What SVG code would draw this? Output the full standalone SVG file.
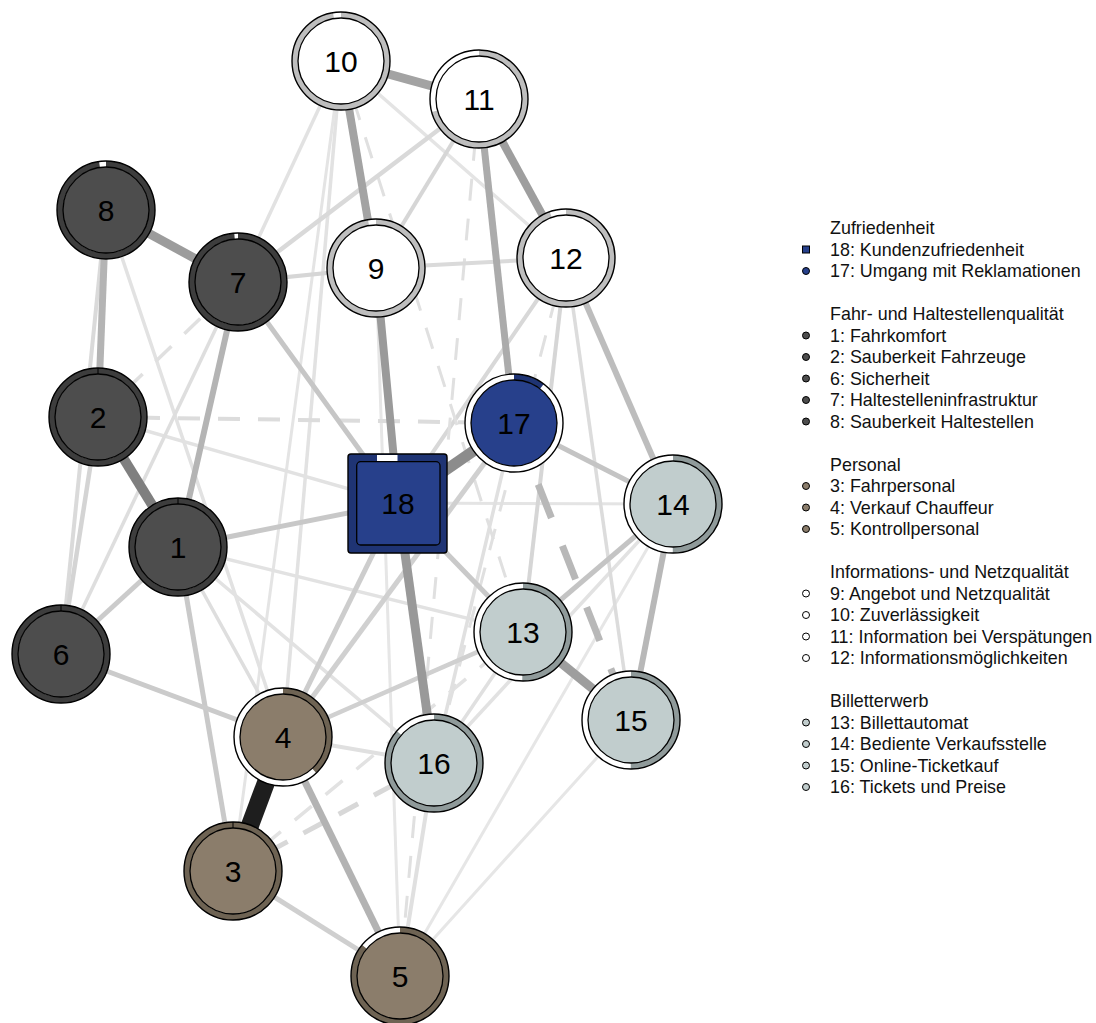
<svg xmlns="http://www.w3.org/2000/svg" width="1096" height="1023" viewBox="0 0 1096 1023">
<style>
.e{fill:none;stroke-linecap:butt}
.d{stroke-dasharray:22 18}
.bg{fill:#fff}
.ol{fill:none;stroke:#000;stroke-width:1.4}
.in{stroke:#000;stroke-width:1.3}
.lb{font-family:"Liberation Sans",Arial,sans-serif;font-size:30px;text-anchor:middle;fill:#000}
.lg{font-family:"Liberation Sans",Arial,sans-serif;font-size:17.9px;fill:#111}
.sym{stroke:#000;stroke-width:1}
</style>
<rect width="1096" height="1023" fill="#fff"/>
<g id="connectors">
<line class="e" x1="341" y1="61" x2="238" y2="282" stroke="#e2e2e2" stroke-width="3.5"/>
<line class="e" x1="341" y1="61" x2="283" y2="737" stroke="#e2e2e2" stroke-width="3.5"/>
<line class="e" x1="341" y1="61" x2="233" y2="871" stroke="#e4e4e4" stroke-width="3"/>
<line class="e" x1="341" y1="61" x2="566" y2="258" stroke="#e4e4e4" stroke-width="3.5"/>
<line class="e" x1="400" y1="976" x2="376" y2="268" stroke="#e6e6e6" stroke-width="3"/>
<line class="e" x1="400" y1="976" x2="673" y2="504" stroke="#e6e6e6" stroke-width="3"/>
<line class="e" x1="400" y1="976" x2="631" y2="720" stroke="#e6e6e6" stroke-width="3"/>
<line class="e" x1="398" y1="503" x2="673" y2="504" stroke="#e4e4e4" stroke-width="3"/>
<line class="e" x1="98" y1="417" x2="398" y2="503" stroke="#e2e2e2" stroke-width="3.5"/>
<line class="e" x1="106" y1="210" x2="283" y2="737" stroke="#e2e2e2" stroke-width="3.5"/>
<line class="e" x1="178" y1="547" x2="523" y2="632" stroke="#e2e2e2" stroke-width="3.5"/>
<line class="e" x1="178" y1="547" x2="434" y2="763" stroke="#e2e2e2" stroke-width="3.5"/>
<line class="e" x1="178" y1="547" x2="283" y2="737" stroke="#dedede" stroke-width="3.5"/>
<line class="e" x1="434" y1="763" x2="523" y2="632" stroke="#e0e0e0" stroke-width="3.5"/>
<line class="e" x1="434" y1="763" x2="514" y2="423" stroke="#e0e0e0" stroke-width="3.5"/>
<line class="e" x1="434" y1="763" x2="673" y2="504" stroke="#e2e2e2" stroke-width="3.5"/>
<line class="e" x1="61" y1="654" x2="238" y2="282" stroke="#dedede" stroke-width="3.5"/>
<line class="e" x1="61" y1="654" x2="106" y2="210" stroke="#dadada" stroke-width="4"/>
<line class="e" x1="61" y1="654" x2="98" y2="417" stroke="#d4d4d4" stroke-width="4.5"/>
<line class="e" x1="566" y1="258" x2="631" y2="720" stroke="#dcdcdc" stroke-width="3.5"/>
<line class="e" x1="566" y1="258" x2="523" y2="632" stroke="#d6d6d6" stroke-width="4"/>
<line class="e" x1="566" y1="258" x2="398" y2="503" stroke="#d8d8d8" stroke-width="4"/>
<line class="e" x1="283" y1="737" x2="434" y2="763" stroke="#e0e0e0" stroke-width="4"/>
<line class="e" x1="400" y1="976" x2="434" y2="763" stroke="#e0e0e0" stroke-width="4"/>
<line class="e d" x1="98" y1="417" x2="514" y2="423" stroke="#dcdcdc" stroke-width="4"/>
<line class="e d" x1="98" y1="417" x2="238" y2="282" stroke="#e0e0e0" stroke-width="3.5"/>
<line class="e d" x1="233" y1="871" x2="523" y2="632" stroke="#e2e2e2" stroke-width="3.5"/>
<line class="e d" x1="233" y1="871" x2="434" y2="763" stroke="#d8d8d8" stroke-width="5"/>
<line class="e d" x1="479" y1="99" x2="400" y2="976" stroke="#e0e0e0" stroke-width="3"/>
<line class="e d" x1="566" y1="258" x2="434" y2="763" stroke="#e0e0e0" stroke-width="3"/>
<line class="e d" x1="341" y1="61" x2="523" y2="632" stroke="#e0e0e0" stroke-width="3"/>
<line class="e" x1="376" y1="268" x2="566" y2="258" stroke="#dadada" stroke-width="4"/>
<line class="e" x1="238" y1="282" x2="376" y2="268" stroke="#d6d6d6" stroke-width="4"/>
<line class="e" x1="479" y1="99" x2="238" y2="282" stroke="#d9d9d9" stroke-width="4.5"/>
<line class="e" x1="479" y1="99" x2="376" y2="268" stroke="#d6d6d6" stroke-width="4"/>
<line class="e" x1="283" y1="737" x2="514" y2="423" stroke="#d0d0d0" stroke-width="5"/>
<line class="e" x1="283" y1="737" x2="523" y2="632" stroke="#d0d0d0" stroke-width="4.5"/>
<line class="e" x1="398" y1="503" x2="283" y2="737" stroke="#cdcdcd" stroke-width="5"/>
<line class="e" x1="178" y1="547" x2="233" y2="871" stroke="#c9c9c9" stroke-width="5"/>
<line class="e" x1="233" y1="871" x2="400" y2="976" stroke="#cfcfcf" stroke-width="5"/>
<line class="e" x1="61" y1="654" x2="283" y2="737" stroke="#cbcbcb" stroke-width="5"/>
<line class="e" x1="61" y1="654" x2="178" y2="547" stroke="#cbcbcb" stroke-width="5"/>
<line class="e" x1="398" y1="503" x2="523" y2="632" stroke="#c9c9c9" stroke-width="5"/>
<line class="e" x1="178" y1="547" x2="398" y2="503" stroke="#c8c8c8" stroke-width="5"/>
<line class="e" x1="238" y1="282" x2="398" y2="503" stroke="#c6c6c6" stroke-width="5"/>
<line class="e" x1="514" y1="423" x2="673" y2="504" stroke="#c4c4c4" stroke-width="5"/>
<line class="e" x1="523" y1="632" x2="673" y2="504" stroke="#c4c4c4" stroke-width="5"/>
<line class="e" x1="566" y1="258" x2="673" y2="504" stroke="#bdbdbd" stroke-width="6"/>
<line class="e" x1="283" y1="737" x2="400" y2="976" stroke="#b3b3b3" stroke-width="7"/>
<line class="e" x1="673" y1="504" x2="631" y2="720" stroke="#b8b8b8" stroke-width="6"/>
<line class="e" x1="238" y1="282" x2="178" y2="547" stroke="#b4b4b4" stroke-width="6"/>
<line class="e" x1="106" y1="210" x2="98" y2="417" stroke="#b4b4b4" stroke-width="7"/>
<line class="e" x1="479" y1="99" x2="514" y2="423" stroke="#ababab" stroke-width="7"/>
<line class="e" x1="514" y1="423" x2="631" y2="720" stroke="#b8b8b8" stroke-width="7" stroke-dasharray="36 30"/>
<line class="e" x1="523" y1="632" x2="631" y2="720" stroke="#9e9e9e" stroke-width="9"/>
<line class="e" x1="398" y1="503" x2="434" y2="763" stroke="#999" stroke-width="9"/>
<line class="e" x1="376" y1="268" x2="398" y2="503" stroke="#9a9a9a" stroke-width="8"/>
<line class="e" x1="479" y1="99" x2="566" y2="258" stroke="#9e9e9e" stroke-width="8"/>
<line class="e" x1="341" y1="61" x2="376" y2="268" stroke="#a3a3a3" stroke-width="8"/>
<line class="e" x1="106" y1="210" x2="238" y2="282" stroke="#9c9c9c" stroke-width="9"/>
<line class="e" x1="341" y1="61" x2="479" y2="99" stroke="#a3a3a3" stroke-width="9"/>
<line class="e" x1="398" y1="503" x2="514" y2="423" stroke="#8c8c8c" stroke-width="11"/>
<line class="e" x1="98" y1="417" x2="178" y2="547" stroke="#7f7f7f" stroke-width="10"/>
<line class="e" x1="233" y1="871" x2="283" y2="737" stroke="#1e1e1e" stroke-width="18"/>
</g>
<g id="n10"><circle class="bg" cx="341" cy="61" r="49"/><circle cx="341" cy="61" r="46" fill="none" stroke="#bebebe" stroke-width="6" stroke-dasharray="281 400" transform="rotate(-90 341 61)"/><circle class="ol" cx="341" cy="61" r="49"/><circle class="in" cx="341" cy="61" r="43" fill="#fff"/><text class="lb" x="341" y="72">10</text></g>
<g id="n11"><circle class="bg" cx="479" cy="99" r="49"/><circle cx="479" cy="99" r="46" fill="none" stroke="#bebebe" stroke-width="6" stroke-dasharray="204 400" transform="rotate(-90 479 99)"/><circle class="ol" cx="479" cy="99" r="49"/><circle class="in" cx="479" cy="99" r="43" fill="#fff"/><text class="lb" x="479" y="110">11</text></g>
<g id="n9"><circle class="bg" cx="376" cy="268" r="49"/><circle cx="376" cy="268" r="46" fill="none" stroke="#bebebe" stroke-width="6" stroke-dasharray="281 400" transform="rotate(-90 376 268)"/><circle class="ol" cx="376" cy="268" r="49"/><circle class="in" cx="376" cy="268" r="43" fill="#fff"/><text class="lb" x="376" y="279">9</text></g>
<g id="n12"><circle class="bg" cx="566" cy="258" r="49"/><circle cx="566" cy="258" r="46" fill="none" stroke="#bebebe" stroke-width="6" stroke-dasharray="273 400" transform="rotate(-90 566 258)"/><circle class="ol" cx="566" cy="258" r="49"/><circle class="in" cx="566" cy="258" r="43" fill="#fff"/><text class="lb" x="566" y="269">12</text></g>
<g id="n8"><circle class="bg" cx="106" cy="210" r="49"/><circle cx="106" cy="210" r="46" fill="none" stroke="#3d3d3d" stroke-width="6" stroke-dasharray="282 400" transform="rotate(-90 106 210)"/><circle class="ol" cx="106" cy="210" r="49"/><circle class="in" cx="106" cy="210" r="43" fill="#4d4d4d"/><text class="lb" x="106" y="221">8</text></g>
<g id="n7"><circle class="bg" cx="238" cy="282" r="49"/><circle cx="238" cy="282" r="46" fill="none" stroke="#3d3d3d" stroke-width="6" stroke-dasharray="285 400" transform="rotate(-90 238 282)"/><circle class="ol" cx="238" cy="282" r="49"/><circle class="in" cx="238" cy="282" r="43" fill="#4d4d4d"/><text class="lb" x="238" y="293">7</text></g>
<g id="n2"><circle class="bg" cx="98" cy="417" r="49"/><circle cx="98" cy="417" r="46" fill="none" stroke="#3d3d3d" stroke-width="6" stroke-dasharray="289.5 400" transform="rotate(-90 98 417)"/><circle class="ol" cx="98" cy="417" r="49"/><line x1="98" y1="368" x2="98" y2="374" stroke="#000" stroke-width="1"/><circle class="in" cx="98" cy="417" r="43" fill="#4d4d4d"/><text class="lb" x="98" y="428">2</text></g>
<g id="n1"><circle class="bg" cx="178" cy="547" r="49"/><circle cx="178" cy="547" r="46" fill="none" stroke="#3d3d3d" stroke-width="6" stroke-dasharray="289.5 400" transform="rotate(-90 178 547)"/><circle class="ol" cx="178" cy="547" r="49"/><line x1="178" y1="498" x2="178" y2="504" stroke="#000" stroke-width="1"/><circle class="in" cx="178" cy="547" r="43" fill="#4d4d4d"/><text class="lb" x="178" y="558">1</text></g>
<g id="n6"><circle class="bg" cx="61" cy="654" r="49"/><circle cx="61" cy="654" r="46" fill="none" stroke="#3d3d3d" stroke-width="6" stroke-dasharray="289.5 400" transform="rotate(-90 61 654)"/><circle class="ol" cx="61" cy="654" r="49"/><line x1="61" y1="605" x2="61" y2="611" stroke="#000" stroke-width="1"/><circle class="in" cx="61" cy="654" r="43" fill="#4d4d4d"/><text class="lb" x="61" y="665">6</text></g>
<g id="n17"><circle class="bg" cx="514" cy="423" r="49"/><circle cx="514" cy="423" r="46" fill="none" stroke="#1f3474" stroke-width="6" stroke-dasharray="30 400" transform="rotate(-90 514 423)"/><circle class="ol" cx="514" cy="423" r="49"/><circle class="in" cx="514" cy="423" r="43" fill="#27408b"/><text class="lb" x="514" y="434">17</text></g>
<g id="n18"><rect x="348" y="454" width="99" height="99" rx="3" fill="#1f3474" stroke="#000" stroke-width="1.4"/><rect x="377" y="455" width="20.5" height="6.8" fill="#fff"/><rect x="356.7" y="461.7" width="83.3" height="83.3" rx="4" fill="#27408b" stroke="#000" stroke-width="1.3"/><text class="lb" x="398" y="514">18</text></g>
<g id="n14"><circle class="bg" cx="673" cy="504" r="49"/><circle cx="673" cy="504" r="46" fill="none" stroke="#8f9a9a" stroke-width="6" stroke-dasharray="144.5 400" transform="rotate(-90 673 504)"/><circle class="ol" cx="673" cy="504" r="49"/><circle class="in" cx="673" cy="504" r="43" fill="#c1cdcd"/><text class="lb" x="673" y="515">14</text></g>
<g id="n13"><circle class="bg" cx="523" cy="632" r="49"/><circle cx="523" cy="632" r="46" fill="none" stroke="#8f9a9a" stroke-width="6" stroke-dasharray="145 400" transform="rotate(-90 523 632)"/><circle class="ol" cx="523" cy="632" r="49"/><circle class="in" cx="523" cy="632" r="43" fill="#c1cdcd"/><text class="lb" x="523" y="643">13</text></g>
<g id="n15"><circle class="bg" cx="631" cy="720" r="49"/><circle cx="631" cy="720" r="46" fill="none" stroke="#8f9a9a" stroke-width="6" stroke-dasharray="144.5 400" transform="rotate(-90 631 720)"/><circle class="ol" cx="631" cy="720" r="49"/><circle class="in" cx="631" cy="720" r="43" fill="#c1cdcd"/><text class="lb" x="631" y="731">15</text></g>
<g id="n16"><circle class="bg" cx="434" cy="763" r="49"/><circle cx="434" cy="763" r="46" fill="none" stroke="#8f9a9a" stroke-width="6" stroke-dasharray="249 400" transform="rotate(-90 434 763)"/><circle class="ol" cx="434" cy="763" r="49"/><circle class="in" cx="434" cy="763" r="43" fill="#c1cdcd"/><text class="lb" x="434" y="774">16</text></g>
<g id="n4"><circle class="bg" cx="283" cy="737" r="49"/><circle cx="283" cy="737" r="46" fill="none" stroke="#6e6353" stroke-width="6" stroke-dasharray="110 400" transform="rotate(-90 283 737)"/><circle class="ol" cx="283" cy="737" r="49"/><circle class="in" cx="283" cy="737" r="43" fill="#8b7d6b"/><text class="lb" x="283" y="748">4</text></g>
<g id="n3"><circle class="bg" cx="233" cy="871" r="49"/><circle cx="233" cy="871" r="46" fill="none" stroke="#6e6353" stroke-width="6" stroke-dasharray="289.5 400" transform="rotate(-90 233 871)"/><circle class="ol" cx="233" cy="871" r="49"/><line x1="233" y1="822" x2="233" y2="828" stroke="#000" stroke-width="1"/><circle class="in" cx="233" cy="871" r="43" fill="#8b7d6b"/><text class="lb" x="233" y="882">3</text></g>
<g id="n5"><circle class="bg" cx="400" cy="976" r="49"/><circle cx="400" cy="976" r="46" fill="none" stroke="#6e6353" stroke-width="6" stroke-dasharray="248 400" transform="rotate(-90 400 976)"/><circle class="ol" cx="400" cy="976" r="49"/><circle class="in" cx="400" cy="976" r="43" fill="#8b7d6b"/><text class="lb" x="400" y="987">5</text></g>
<g id="legend">
<text class="lg" x="830" y="234">Zufriedenheit</text>
<rect class="sym" x="802.5" y="246" width="7" height="7" fill="#27408b"/><text class="lg" x="830" y="255.5">18: Kundenzufriedenheit</text>
<circle class="sym" cx="806" cy="271" r="3.5" fill="#27408b"/><text class="lg" x="830" y="277">17: Umgang mit Reklamationen</text>
<text class="lg" x="830" y="320">Fahr- und Haltestellenqualität</text>
<circle class="sym" cx="806" cy="335.5" r="3.5" fill="#4d4d4d"/><text class="lg" x="830" y="341.5">1: Fahrkomfort</text>
<circle class="sym" cx="806" cy="357" r="3.5" fill="#4d4d4d"/><text class="lg" x="830" y="363">2: Sauberkeit Fahrzeuge</text>
<circle class="sym" cx="806" cy="378.5" r="3.5" fill="#4d4d4d"/><text class="lg" x="830" y="384.5">6: Sicherheit</text>
<circle class="sym" cx="806" cy="400" r="3.5" fill="#4d4d4d"/><text class="lg" x="830" y="406">7: Haltestelleninfrastruktur</text>
<circle class="sym" cx="806" cy="421.5" r="3.5" fill="#4d4d4d"/><text class="lg" x="830" y="427.5">8: Sauberkeit Haltestellen</text>
<text class="lg" x="830" y="470.5">Personal</text>
<circle class="sym" cx="806" cy="486" r="3.5" fill="#8b7d6b"/><text class="lg" x="830" y="492">3: Fahrpersonal</text>
<circle class="sym" cx="806" cy="507.5" r="3.5" fill="#8b7d6b"/><text class="lg" x="830" y="513.5">4: Verkauf Chauffeur</text>
<circle class="sym" cx="806" cy="529" r="3.5" fill="#8b7d6b"/><text class="lg" x="830" y="535">5: Kontrollpersonal</text>
<text class="lg" x="830" y="578">Informations- und Netzqualität</text>
<circle class="sym" cx="806" cy="593.5" r="3.5" fill="#fff"/><text class="lg" x="830" y="599.5">9: Angebot und Netzqualität</text>
<circle class="sym" cx="806" cy="615" r="3.5" fill="#fff"/><text class="lg" x="830" y="621">10: Zuverlässigkeit</text>
<circle class="sym" cx="806" cy="636.5" r="3.5" fill="#fff"/><text class="lg" x="830" y="642.5">11: Information bei Verspätungen</text>
<circle class="sym" cx="806" cy="658" r="3.5" fill="#fff"/><text class="lg" x="830" y="664">12: Informationsmöglichkeiten</text>
<text class="lg" x="830" y="707">Billetterwerb</text>
<circle class="sym" cx="806" cy="722.5" r="3.5" fill="#c1cdcd"/><text class="lg" x="830" y="728.5">13: Billettautomat</text>
<circle class="sym" cx="806" cy="744" r="3.5" fill="#c1cdcd"/><text class="lg" x="830" y="750">14: Bediente Verkaufsstelle</text>
<circle class="sym" cx="806" cy="765.5" r="3.5" fill="#c1cdcd"/><text class="lg" x="830" y="771.5">15: Online-Ticketkauf</text>
<circle class="sym" cx="806" cy="787" r="3.5" fill="#c1cdcd"/><text class="lg" x="830" y="793">16: Tickets und Preise</text>
</g>
</svg>
